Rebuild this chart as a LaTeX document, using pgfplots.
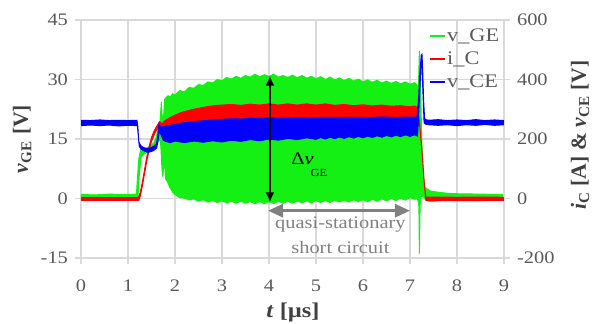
\documentclass[border=0pt]{standalone}
\usepackage{fontspec}
\setmainfont{Liberation Serif}[FakeStretch=1.16]
\newfontfamily\plainserif{Liberation Serif}
\usepackage{pgfplots}
\pgfplotsset{compat=1.18}
\usetikzlibrary{arrows.meta}
\definecolor{gridgray}{RGB}{217,217,217}
\definecolor{tickgray}{RGB}{89,89,89}
\definecolor{labgray}{RGB}{64,64,64}
\definecolor{arrgray}{RGB}{128,128,128}
\definecolor{vgreen}{RGB}{20,240,20}
\definecolor{vred}{RGB}{255,0,0}
\definecolor{vblue}{RGB}{0,0,255}
\newcommand{\fs}{\fontsize{8.8}{10.5}\selectfont}
\begin{document}
\begin{tikzpicture}
\begin{axis}[
  at={(0,0)}, anchor=south west,
  scale only axis, width=211.5pt, height=119pt,
  xmin=0, xmax=9, ymin=-15, ymax=45,
  xtick={0,1,...,9}, ytick={-15,0,15,30,45},
  tick pos=left, tick align=outside, major tick length=3pt,
  grid=major, major grid style={draw=gridgray, line width=0.6pt},
  axis line style={draw=gridgray, line width=0.6pt},
  tick style={draw=gridgray, line width=0.6pt},
  /pgf/number format/assume math mode=true,
  tick label style={font=\fs, text=tickgray},
  xticklabel style={yshift=-4.5pt},
  ylabel={\plainserif\bfseries\textit{v}\textsubscript{GE} [V]},
  ylabel style={at={(axis description cs:-0.139,0.5)}, anchor=center, font=\fontsize{10.8}{12}\selectfont, text=labgray},
  xlabel={\bfseries\textit{t} [µs]},
  xlabel style={at={(axis description cs:0.501,-0.229)}, anchor=center, font=\fontsize{10.5}{12}\selectfont, text=labgray},
]
% v_GE envelope (upper edge forward, lower edge back)
\addplot[draw=vgreen, fill=vgreen, line width=0.5pt, forget plot] coordinates {
(0,1.0) (0.3,0.9) (0.6,1.1) (0.9,1.0) (1.18,1.1) (1.20,5) (1.23,10) (1.27,12.3) (1.35,12.6) (1.45,13.0) (1.55,14.0) (1.60,15.5) (1.65,18) (1.68,19) (1.71,24.3) (1.73,20) (1.76,21) (1.78,25.0) (1.80,25.3)
(1.85,25.9) (1.90,25.6) (1.95,26.4) (2.00,26.1) (2.10,27.2) (2.20,26.9) (2.30,28.0) (2.40,27.8) (2.50,28.7) (2.60,28.5) (2.70,29.4) (2.80,29.1) (2.90,30.0) (3.00,29.7) (3.10,30.5) (3.20,30.1) (3.30,30.8) (3.40,30.3) (3.50,31.0) (3.60,30.6) (3.70,31.3) (3.80,30.7) (3.90,31.2) (4.00,30.8) (4.10,31.3) (4.20,30.6) (4.30,31.0) (4.40,30.5) (4.50,31.1) (4.60,30.4) (4.70,31.0) (4.80,30.3) (4.90,30.8) (5.00,30.2) (5.10,30.7) (5.20,30.0) (5.30,30.6) (5.40,29.9) (5.50,30.4) (5.60,29.7) (5.70,30.3) (5.80,29.6) (5.90,30.1) (6.00,29.4) (6.10,29.9) (6.20,29.3) (6.30,29.8) (6.40,29.1) (6.50,29.6) (6.60,29.0) (6.70,29.5) (6.80,28.9) (6.90,29.4) (7.00,28.8) (7.10,29.2) (7.15,28.6)
(7.18,28) (7.20,37.2) (7.22,30) (7.25,15) (7.28,6) (7.31,3) (7.35,2.5) (7.45,1.8) (7.6,1.6) (7.8,1.3) (8.0,1.2) (8.5,1.1) (9.0,1.0)
(9.0,-0.2) (8.5,-0.3) (8.0,-0.4) (7.6,-0.6) (7.45,-0.8) (7.38,-0.6) (7.33,-0.3) (7.28,0.5) (7.23,0.5) (7.215,-2) (7.20,-13.9) (7.19,-2) (7.16,0.0)
(7.10,-0.2) (7.00,0.2) (6.90,-0.4) (6.80,0.1) (6.70,-0.5) (6.60,0.0) (6.50,-0.6) (6.40,-0.1) (6.30,-0.7) (6.20,-0.2) (6.10,-0.8) (6.00,-0.3) (5.90,-0.8) (5.80,-0.3) (5.70,-0.9) (5.60,-0.4) (5.50,-0.9) (5.40,-0.4) (5.30,-1.0) (5.20,-0.5) (5.10,-1.0) (5.00,-0.5) (4.90,-1.1) (4.80,-0.6) (4.70,-1.1) (4.60,-0.6) (4.50,-1.2) (4.40,-0.7) (4.30,-1.2) (4.20,-0.7) (4.10,-1.3) (4.00,-0.8) (3.90,-1.3) (3.80,-0.8) (3.70,-1.3) (3.60,-0.8) (3.50,-1.2) (3.40,-0.7) (3.30,-1.2) (3.20,-0.7) (3.10,-1.1) (3.00,-0.6) (2.90,-1.0) (2.80,-0.5) (2.70,-0.9) (2.60,-0.3) (2.50,-0.7) (2.40,-0.1) (2.30,-0.4) (2.20,0.1) (2.10,0.2) (2.00,1.0) (1.95,1.6) (1.89,2.8) (1.84,4.2) (1.80,5.0) (1.78,9) (1.76,8) (1.74,5.5) (1.72,8) (1.70,13) (1.68,15) (1.65,14.5) (1.60,13.5) (1.55,12.8) (1.45,11.8) (1.35,11.3) (1.28,10.5) (1.24,6) (1.21,-0.3) (0.9,-0.4) (0.6,-0.3) (0.3,-0.4) (0,-0.3)
};
\end{axis}
\begin{axis}[
  at={(0,0)}, anchor=south west,
  scale only axis, width=211.5pt, height=119pt,
  xmin=0, xmax=9, ymin=-200, ymax=600,
  axis x line=none, axis y line*=right,
  ytick={-200,0,200,400,600},
  tick align=outside, major tick length=3pt,
  axis line style={draw=gridgray, line width=0.6pt, -},
  tick style={draw=gridgray, line width=0.6pt},
  /pgf/number format/assume math mode=true,
  tick label style={font=\fs, text=tickgray},
  ylabel={\plainserif\bfseries\textit{i}\textsubscript{C} [A] \& \textit{v}\textsubscript{CE} [V]},
  ylabel style={at={(axis description cs:1.18,0.517)}, anchor=center, font=\fontsize{10.8}{12}\selectfont, text=labgray},
  legend style={at={(rel axis cs:0.998,0.99)}, anchor=north east, draw=none, fill=none, inner sep=1pt, font=\fontsize{9.6}{11}\selectfont, text=tickgray, row sep=0pt, nodes={inner sep=0.8pt, text height=7.4pt, text depth=2.5pt}},
  legend cell align=left,
  legend image code/.code={\draw[line width=0.8pt] (0pt,0pt) -- (7.5pt,0pt);},
]
\addlegendimage{color=vgreen}
\addlegendentry{v\_GE}
\addlegendimage{color=vred}
\addlegendentry{i\_C}
\addlegendimage{color=vblue}
\addlegendentry{v\_CE}
% i_C envelope
\addplot[draw=vred, fill=vred, line width=0.5pt, forget plot] coordinates {
(0,3) (1.20,3) (1.23,6) (1.26,20) (1.30,50) (1.35,95) (1.40,140) (1.45,175) (1.50,205) (1.55,225) (1.60,240) (1.64,250) (1.67,258) (1.70,255) (1.73,250) (1.76,258) (1.80,263) (1.90,272) (2.00,280) (2.10,287) (2.20,292) (2.30,296) (2.40,300) (2.50,303) (2.60,306) (2.70,309) (2.80,311) (2.90,313) (3.00,314) (3.2,316) (3.4,313) (3.6,317) (3.8,314) (4.0,318) (4.2,314) (4.4,318) (4.6,314) (4.8,318) (5.0,314) (5.2,318) (5.4,313) (5.6,316) (5.8,312) (6.0,315) (6.2,311) (6.4,314) (6.6,310) (6.8,312) (7.0,308) (7.1,311) (7.16,305) (7.20,260) (7.25,170) (7.30,60) (7.33,5) (7.5,5) (8,4) (8.5,5) (9,4)
(9,-6) (8.5,-7) (8,-7) (7.5,-6) (7.34,-6) (7.31,40) (7.26,150) (7.21,240) (7.16,255) (7.0,255) (6.0,255) (5.0,255) (4.0,255) (3.0,250) (2.0,240) (1.80,238) (1.70,245) (1.67,246) (1.64,238) (1.60,228) (1.55,212) (1.50,192) (1.45,162) (1.40,127) (1.35,82) (1.30,38) (1.26,8) (1.23,-6) (1.2,-6) (0,-6)
};
% v_CE envelope
\addplot[draw=vblue, fill=vblue, line width=0.5pt, forget plot] coordinates {
(0,263) (0.2,262) (0.4,264) (0.6,262) (0.8,263) (1.0,262) (1.19,263) (1.21,240) (1.23,190) (1.27,178) (1.32,172) (1.40,167) (1.48,170) (1.55,176) (1.60,182) (1.63,205) (1.66,250) (1.68,243) (1.72,240) (1.8,243) (1.9,246) (2.0,249) (2.1,252) (2.2,255) (2.4,258) (2.6,261) (2.8,264) (3.0,266) (3.2,268) (3.4,267) (3.6,270) (3.8,269) (4.0,271) (4.3,270) (4.6,272) (4.9,271) (5.2,273) (5.5,272) (5.8,273) (6.1,272) (6.4,274) (6.7,272) (7.0,274) (7.15,273)
(7.18,330) (7.21,420) (7.24,482) (7.255,485) (7.27,430) (7.29,330) (7.31,270) (7.33,265) (7.4,263) (7.6,265) (7.8,262) (8.0,264) (8.2,262) (8.4,265) (8.6,262) (8.8,264) (9.0,262)
(9.0,248) (8.8,246) (8.6,249) (8.4,246) (8.2,248) (8.0,245) (7.8,248) (7.6,246) (7.4,248) (7.33,250) (7.30,255) (7.27,380) (7.25,460) (7.235,465) (7.22,400) (7.19,300) (7.16,210)
(7.1,214) (7.0,209) (6.9,214) (6.8,208) (6.7,213) (6.6,207) (6.5,212) (6.4,206) (6.3,211) (6.2,205) (6.1,210) (6.0,204) (5.9,209) (5.8,203) (5.7,208) (5.6,202) (5.5,207) (5.4,201) (5.3,206) (5.2,200) (5.1,205) (5.0,199) (4.8,204) (4.6,198) (4.4,202) (4.2,196) (4.0,200) (3.8,194) (3.6,198) (3.4,192) (3.2,196) (3.0,190) (2.8,194) (2.6,189) (2.4,193) (2.2,188) (2.0,193) (1.9,188) (1.8,192) (1.75,196) (1.70,215) (1.67,232) (1.64,195) (1.61,170) (1.56,163) (1.50,158) (1.42,155) (1.34,160) (1.28,166) (1.24,175) (1.22,210) (1.20,245) (1.0,246) (0.8,244) (0.6,247) (0.4,245) (0.2,247) (0,245)
};
% annotations (right-axis units)
\draw[black, line width=1pt, {Latex[length=5pt,width=4.5pt]}-{Latex[length=5pt,width=4.5pt]}] (axis cs:4.02,413) -- (axis cs:4.02,-13);
\node[anchor=base west, inner sep=0pt, font=\fs] at (axis cs:4.47,114) {Δ\textit{v}\hspace{-1.5pt}\raisebox{-6pt}{\fontsize{5.4}{6}\selectfont GE}};
\draw[arrgray, line width=1.5pt, {Triangle[length=7.5pt,width=6.5pt]}-{Triangle[length=7.5pt,width=6.5pt]}] (axis cs:3.98,-41) -- (axis cs:7.0,-41);
\node[anchor=base, inner sep=0pt, font=\fs, text=arrgray] at (axis cs:5.52,-100) {quasi-stationary};
\node[anchor=base, inner sep=0pt, font=\fs, text=arrgray] at (axis cs:5.52,-186) {short circuit};
\end{axis}
\pgfresetboundingbox
\path[use as bounding box] (-40.5pt,-33pt) rectangle (255.5pt,129pt);
\end{tikzpicture}
\end{document}
